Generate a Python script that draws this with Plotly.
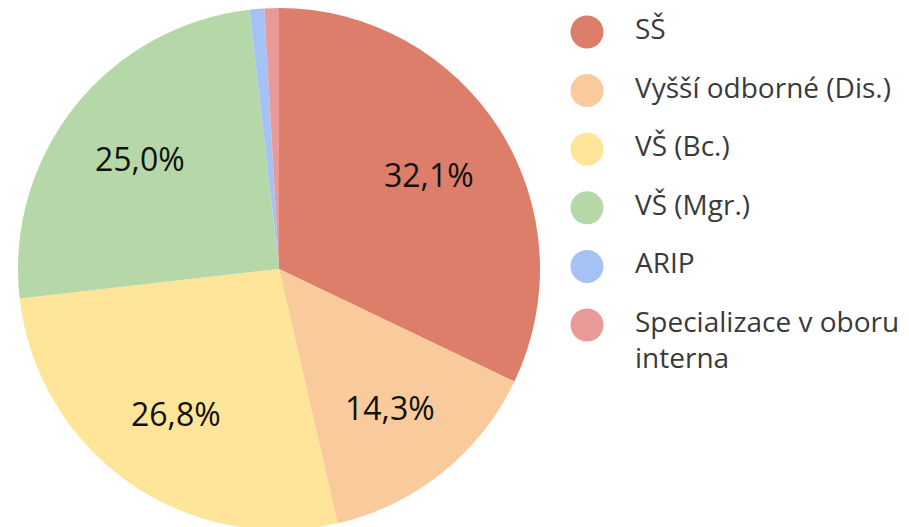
import math
import plotly.graph_objects as go

categories = ["SŠ", "Vyšší odborné (Dis.)", "VŠ (Bc.)", "VŠ (Mgr.)", "ARIP", "Specializace v oboru interna"]
legend_labels = ["SŠ", "Vyšší odborné (Dis.)", "VŠ (Bc.)", "VŠ (Mgr.)", "ARIP", "Specializace v oboru<br>interna"]
values = [32.1, 14.3, 26.8, 25.0, 0.9, 0.9]
colors = ["#dd7e6b", "#f9cb9c", "#ffe599", "#b6d7a8", "#a4c2f4", "#ea9999"]

# page body has an 8px margin; figure sized so the 909x527 window shows the intended view
W, H = 901, 522
MT = 0
plot_h = H - MT
radius = plot_h / 2
cx = 271                # pie centre x (figure px)
cy = MT + radius        # pie centre y (figure px)

fig = go.Figure()
fig.add_trace(go.Pie(
    labels=categories,
    values=values,
    sort=False,
    direction="clockwise",
    rotation=0,
    marker=dict(colors=colors, line=dict(width=0)),
    textinfo="none",
    domain=dict(x=[(cx - radius) / W, (cx + radius) / W], y=[0, 1]),
    showlegend=False,
    hoverinfo="label+percent",
))

# percentage labels placed along each slice's bisector (computed from values)
total = sum(values)
cum = 0.0
label_r = 0.68 * radius
for v in values:
    mid = 2 * math.pi * (cum + v / 2) / total
    cum += v
    if v < 5:
        continue
    px = cx + label_r * math.sin(mid)
    py = cy - label_r * math.cos(mid)
    fig.add_annotation(
        x=px / W, y=1 - (py - MT) / plot_h, xref="paper", yref="paper",
        text=f"{v:.1f}".replace(".", ",") + "%",
        showarrow=False, xanchor="center", yanchor="middle",
        font=dict(family="Open Sans", size=32, color="#111111"),
    )

# custom legend drawn as scatter in right-hand axes
leg_x0 = (cx + radius) / W
n = len(categories)
idx = list(range(n))
ITEM = 58.6             # px between legend rows
FS = 28
ty = [i + lbl.count("<br>") * 1.3 * FS / 2 / ITEM for i, lbl in enumerate(legend_labels)]

mark_x = 587 - 8 - cx - radius
text_x = 636 - 8 - cx - radius - 1
fig.add_trace(go.Scatter(
    x=[mark_x] * n, y=idx, mode="markers",
    marker=dict(size=33, color=colors, line=dict(width=0)),
    showlegend=False, hoverinfo="skip", cliponaxis=False,
))
fig.add_trace(go.Scatter(
    x=[text_x] * n, y=ty, mode="text", text=legend_labels,
    textposition="middle right",
    textfont=dict(family="Open Sans", size=FS, color="#3a3a3a"),
    showlegend=False, hoverinfo="skip", cliponaxis=False,
))

first_y = 32 - 8
top_unit = -(first_y - MT) / ITEM
bot_unit = (H - first_y) / ITEM
fig.update_layout(
    width=W, height=H,
    margin=dict(l=0, r=0, t=MT, b=0),
    paper_bgcolor="white", plot_bgcolor="rgba(0,0,0,0)",
    xaxis=dict(domain=[leg_x0, 1], range=[0, W * (1 - leg_x0)], visible=False, fixedrange=True),
    yaxis=dict(domain=[0, 1], range=[bot_unit, top_unit], visible=False, fixedrange=True),
)

fig.write_html("out.html")
